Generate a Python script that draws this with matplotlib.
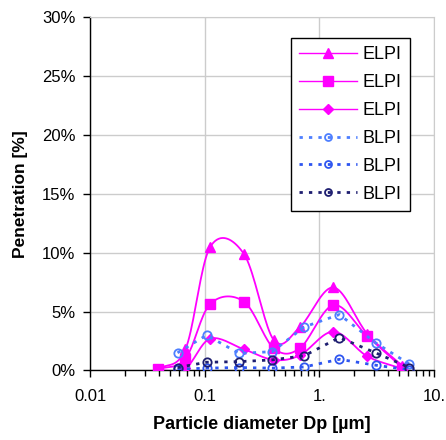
import numpy as np
import matplotlib
matplotlib.use("Agg")
import matplotlib.pyplot as plt

plt.rcParams['font.family'] = ['Liberation Sans', 'DejaVu Sans']

# ELPI stage diameters (um) and penetration (%)
elpi_dp = [0.039, 0.068, 0.112, 0.22, 0.40, 0.68, 1.33, 2.63, 5.3]
elpi_tri = [0.1, 1.8, 10.5, 9.9, 2.6, 3.7, 7.05, 3.1, 0.4]
elpi_sq = [0.1, 1.0, 5.65, 5.85, 1.9, 1.9, 5.55, 2.9, 0.25]
elpi_dia = [0.0, 0.2, 2.7, 1.8, 0.9, 1.3, 3.3, 1.2, 0.15]

# BLPI stage diameters (um) and penetration (%)
blpi_dp = [0.058, 0.104, 0.2, 0.39, 0.74, 1.5, 3.1, 6.1]
blpi_a = [1.5, 3.0, 1.45, 1.6, 3.7, 4.75, 2.35, 0.55]
blpi_b = [0.1, 0.2, 0.25, 0.2, 0.3, 0.95, 0.45, 0.05]
blpi_c = [0.25, 0.7, 0.75, 0.9, 1.25, 2.8, 1.5, 0.25]

x_ticks = [0.01, 0.1, 1, 10]
x_tick_labels = ['0.01', '0.1', '1.', '10.']
y_ticks = [0, 5, 10, 15, 20, 25, 30]


def smooth(x, y, n=20):
    # Catmull-Rom curve through the points in log-x space, like Excel's smoothed line
    lx = np.log10(x)
    y = np.asarray(y, float)
    px = np.concatenate([[2 * lx[0] - lx[1]], lx, [2 * lx[-1] - lx[-2]]])
    py = np.concatenate([[2 * y[0] - y[1]], y, [2 * y[-1] - y[-2]]])
    xs, ys = [], []
    t = np.linspace(0, 1, n)
    for i in range(1, len(px) - 2):
        for arr, out in ((px, xs), (py, ys)):
            p0, p1, p2, p3 = arr[i - 1], arr[i], arr[i + 1], arr[i + 2]
            out.extend(0.5 * (2 * p1 + (-p0 + p2) * t + (2 * p0 - 5 * p1 + 4 * p2 - p3) * t ** 2
                              + (-p0 + 3 * p1 - 3 * p2 + p3) * t ** 3))
    return 10 ** np.array(xs), np.array(ys)


fig = plt.figure(figsize=(4.46, 4.40), dpi=100)
ax = fig.add_axes([0.2018, 0.158, 0.771, 0.803])

pink = '#FF00FF'
for vals, mk, ms in ((elpi_tri, '^', 7.5), (elpi_sq, 's', 6.5), (elpi_dia, 'D', 5.5)):
    sx, sy = smooth(elpi_dp, vals)
    ax.plot(sx, sy, color=pink, lw=1.3, zorder=3)
    ax.plot(elpi_dp, vals, ls='none', marker=mk, ms=ms, color=pink, zorder=4)

blues = ['#4D7FFF', '#2E55F0', '#1E1E70']
for vals, col in zip((blpi_a, blpi_b, blpi_c), blues):
    ax.plot(blpi_dp, vals, ls=(0, (1.2, 2.2)), lw=2, color=col, marker='o', ms=6,
            mfc='none', mec=col, mew=1.3, zorder=5)

# legend proxies
handles = []
for mk, ms in (('^', 7.5), ('s', 6.5), ('D', 5.5)):
    h, = ax.plot([], [], color=pink, lw=1, marker=mk, ms=ms)
    handles.append(h)
for col in blues:
    h, = ax.plot([], [], ls=(0, (1.2, 2.2)), lw=2, color=col, marker='o', ms=5,
                 mfc='none', mec=col, mew=1.3)
    handles.append(h)
leg = ax.legend(handles, ['ELPI', 'ELPI', 'ELPI', 'BLPI', 'BLPI', 'BLPI'],
                loc='upper right', bbox_to_anchor=(0.93, 0.94), numpoints=1,
                fontsize=13, handlelength=3.2, labelspacing=0.6, handletextpad=0.3,
                borderpad=0.45, borderaxespad=0, fancybox=False, framealpha=1,
                edgecolor='black')
leg.get_frame().set_linewidth(1)
leg.set_zorder(10)

ax.set_xscale('log')
ax.set_xlim(0.01, 10)
ax.set_ylim(0, 30)
ax.set_xticks(x_ticks)
ax.set_xticklabels(x_tick_labels)
ax.set_yticks(y_ticks)
ax.set_yticklabels(['%d%%' % v for v in y_ticks])
ax.grid(True, which='major', color='#CCCCCC', lw=1)
ax.set_axisbelow(True)
ax.tick_params(axis='both', which='major', direction='out', length=5, width=1,
               labelsize=12, colors='black', pad=5.5)
ax.tick_params(axis='x', which='minor', direction='out', length=4, width=1)
ax.tick_params(axis='x', pad=8)
for s in ('top', 'right'):
    ax.spines[s].set_color('#CCCCCC')
for s in ('left', 'bottom'):
    ax.spines[s].set_linewidth(1)

ax.set_xlabel('Particle diameter Dp [µm]', fontsize=13, fontweight='bold', labelpad=9)
ax.set_ylabel('Penetration [%]', fontsize=12.5, fontweight='bold', labelpad=10)

fig.savefig('out.png', dpi=100)
